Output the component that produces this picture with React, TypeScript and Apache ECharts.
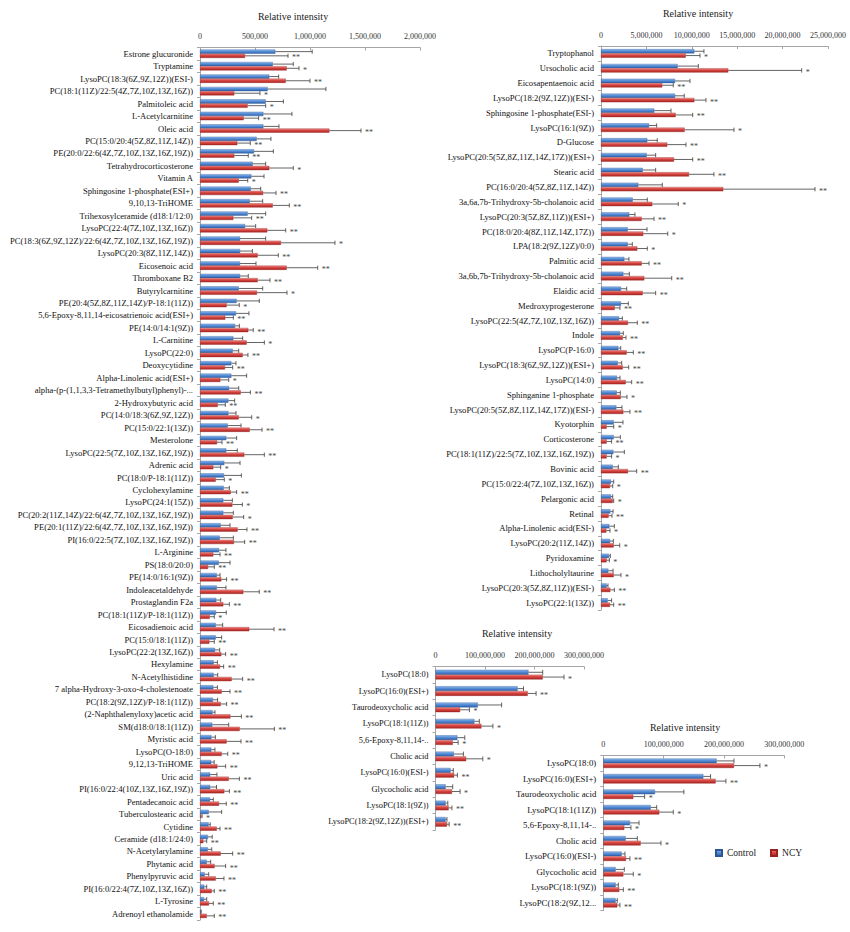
import React, { useEffect, useRef } from "react";
import * as echarts from "echarts";

// ---------- Panel 1 (left) ----------
const P1_CATEGORIES = [
  "Estrone glucuronide", "Tryptamine", "LysoPC(18:3(6Z,9Z,12Z))(ESI-)", "PC(18:1(11Z)/22:5(4Z,7Z,10Z,13Z,16Z))",
  "Palmitoleic acid", "L-Acetylcarnitine", "Oleic acid", "PC(15:0/20:4(5Z,8Z,11Z,14Z))",
  "PE(20:0/22:6(4Z,7Z,10Z,13Z,16Z,19Z))", "Tetrahydrocorticosterone", "Vitamin A", "Sphingosine 1-phosphate(ESI+)",
  "9,10,13-TriHOME", "Trihexosylceramide (d18:1/12:0)", "LysoPC(22:4(7Z,10Z,13Z,16Z))",
  "PC(18:3(6Z,9Z,12Z)/22:6(4Z,7Z,10Z,13Z,16Z,19Z))", "LysoPC(20:3(8Z,11Z,14Z))", "Eicosenoic acid", "Thromboxane B2",
  "Butyrylcarnitine", "PE(20:4(5Z,8Z,11Z,14Z)/P-18:1(11Z))", "5,6-Epoxy-8,11,14-eicosatrienoic acid(ESI+)",
  "PE(14:0/14:1(9Z))", "L-Carnitine", "LysoPC(22:0)", "Deoxycytidine", "Alpha-Linolenic acid(ESI+)",
  "alpha-(p-(1,1,3,3-Tetramethylbutyl)phenyl)-...", "2-Hydroxybutyric acid", "PC(14:0/18:3(6Z,9Z,12Z))",
  "PC(15:0/22:1(13Z))", "Mesterolone", "LysoPC(22:5(7Z,10Z,13Z,16Z,19Z))", "Adrenic acid", "PC(18:0/P-18:1(11Z))",
  "Cyclohexylamine", "LysoPC(24:1(15Z))", "PC(20:2(11Z,14Z)/22:6(4Z,7Z,10Z,13Z,16Z,19Z))",
  "PE(20:1(11Z)/22:6(4Z,7Z,10Z,13Z,16Z,19Z))", "PI(16:0/22:5(7Z,10Z,13Z,16Z,19Z))", "L-Arginine", "PS(18:0/20:0)",
  "PE(14:0/16:1(9Z))", "Indoleacetaldehyde", "Prostaglandin F2a", "PC(18:1(11Z)/P-18:1(11Z))", "Eicosadienoic acid",
  "PC(15:0/18:1(11Z))", "LysoPC(22:2(13Z,16Z))", "Hexylamine", "N-Acetylhistidine",
  "7 alpha-Hydroxy-3-oxo-4-cholestenoate", "PC(18:2(9Z,12Z)/P-18:1(11Z))", "(2-Naphthalenyloxy)acetic acid",
  "SM(d18:0/18:1(11Z))", "Myristic acid", "LysoPC(O-18:0)", "9,12,13-TriHOME", "Uric acid",
  "PI(16:0/22:4(10Z,13Z,16Z,19Z))", "Pentadecanoic acid", "Tuberculostearic acid", "Cytidine",
  "Ceramide (d18:1/24:0)", "N-Acetylarylamine", "Phytanic acid", "Phenylpyruvic acid",
  "PI(16:0/22:4(7Z,10Z,13Z,16Z))", "L-Tyrosine", "Adrenoyl ethanolamide",
];
const P1_CONTROL = [
  685000, 661000, 630000, 615000, 597000, 576000, 576000, 515000, 491000, 479000,
  467000, 461000, 452000, 433000, 409000, 364000, 364000, 364000, 364000, 352000,
  333000, 327000, 318000, 303000, 297000, 285000, 285000, 264000, 258000, 258000,
  252000, 239000, 239000, 221000, 218000, 215000, 212000, 212000, 188000, 179000,
  173000, 170000, 152000, 152000, 148000, 145000, 143000, 143000, 136000, 124000,
  124000, 121000, 117000, 114000, 112000, 104000, 103000, 102000, 93000, 92000,
  91000, 79000, 78000, 72000, 71000, 61000, 42000, 39000, 36000, 6000,
];
const P1_CONTROL_ERR = [
  335000, 187000, 85000, 530000, 161000, 260000, 142000, 130000, 176000, 118000,
  115000, 91000, 118000, 164000, 97000, 233000, 112000, 145000, 75000, 218000,
  206000, 118000, 40000, 85000, 55000, 42000, 139000, 88000, 57000, 69000,
  121000, 94000, 100000, 143000, 158000, 52000, 82000, 91000, 85000, 124000,
  63000, 103000, 30000, 84000, 40000, 94000, 63000, 54000, 43000, 34000,
  37000, 37000, 43000, 22000, 149000, 36000, 33000, 27000, 61000, 58000,
  30000, 118000, 15000, 39000, 36000, 36000, 37000, 22000, 25000, 5000,
];
const P1_NCY = [
  409000, 788000, 779000, 312000, 433000, 397000, 1176000, 339000, 312000, 630000,
  352000, 573000, 661000, 303000, 612000, 736000, 524000, 788000, 524000, 518000,
  242000, 230000, 439000, 424000, 388000, 227000, 185000, 370000, 161000, 352000,
  452000, 155000, 403000, 121000, 143000, 279000, 294000, 297000, 342000, 309000,
  121000, 73000, 194000, 394000, 212000, 88000, 448000, 85000, 194000, 182000,
  288000, 197000, 188000, 276000, 361000, 242000, 197000, 158000, 261000, 221000,
  173000, 9000, 152000, 30000, 188000, 133000, 143000, 106000, 82000, 61000,
];
const P1_NCY_ERR = [
  391000, 112000, 221000, 233000, 164000, 136000, 288000, 118000, 127000, 218000,
  82000, 118000, 151000, 167000, 167000, 491000, 188000, 282000, 112000, 273000,
  115000, 73000, 45000, 161000, 48000, 70000, 76000, 88000, 69000, 118000,
  112000, 45000, 182000, 67000, 78000, 54000, 91000, 100000, 85000, 97000,
  61000, 57000, 48000, 145000, 55000, 42000, 225000, 45000, 39000, 33000,
  100000, 76000, 54000, 100000, 315000, 131000, 55000, 75000, 97000, 46000,
  66000, 10000, 30000, 31000, 109000, 100000, 75000, 24000, 39000, 69000,
];
const P1_SIG = [
  "**", "*", "**", "*", "*", "**", "**", "**", "**", "*",
  "*", "**", "**", "**", "**", "*", "**", "**", "**", "*",
  "*", "**", "**", "*", "**", "**", "*", "**", "**", "*",
  "**", "**", "**", "*", "*", "**", "*", "*", "**", "**",
  "**", "**", "**", "**", "**", "*", "**", "**", "**", "**",
  "**", "**", "**", "**", "**", "**", "**", "**", "**", "**",
  "**", "*", "**", "**", "**", "**", "**", "**", "**", "**",
];
const P1_TICKS = [0, 500000, 1000000, 1500000, 2000000];

// ---------- Panel 2 (top right) ----------
const P2_CATEGORIES = [
  "Tryptophanol", "Ursocholic acid", "Eicosapentaenoic acid", "LysoPC(18:2(9Z,12Z))(ESI-)",
  "Sphingosine 1-phosphate(ESI-)", "LysoPC(16:1(9Z))", "D-Glucose", "LysoPC(20:5(5Z,8Z,11Z,14Z,17Z))(ESI+)",
  "Stearic acid", "PC(16:0/20:4(5Z,8Z,11Z,14Z))", "3a,6a,7b-Trihydroxy-5b-cholanoic acid",
  "LysoPC(20:3(5Z,8Z,11Z))(ESI+)", "PC(18:0/20:4(8Z,11Z,14Z,17Z))", "LPA(18:2(9Z,12Z)/0:0)", "Palmitic acid",
  "3a,6b,7b-Trihydroxy-5b-cholanoic acid", "Elaidic acid", "Medroxyprogesterone",
  "LysoPC(22:5(4Z,7Z,10Z,13Z,16Z))", "Indole", "LysoPC(P-16:0)", "LysoPC(18:3(6Z,9Z,12Z))(ESI+)",
  "LysoPC(14:0)", "Sphinganine 1-phosphate", "LysoPC(20:5(5Z,8Z,11Z,14Z,17Z))(ESI-)", "Kyotorphin",
  "Corticosterone", "PC(18:1(11Z)/22:5(7Z,10Z,13Z,16Z,19Z))", "Bovinic acid", "PC(15:0/22:4(7Z,10Z,13Z,16Z))",
  "Pelargonic acid", "Retinal", "Alpha-Linolenic acid(ESI-)", "LysoPC(20:2(11Z,14Z))", "Pyridoxamine",
  "Lithocholyltaurine", "LysoPC(20:3(5Z,8Z,11Z))(ESI-)", "LysoPC(22:1(13Z))",
];
const P2_CONTROL = [
  10280000, 8440000, 8150000, 8150000, 5870000, 5290000, 5100000, 5030000, 4590000, 4110000,
  3490000, 3120000, 2940000, 2940000, 2570000, 2460000, 2200000, 2200000, 1980000, 2090000,
  1910000, 1840000, 1760000, 1730000, 1690000, 1400000, 1400000, 1360000, 1290000, 1100000,
  1100000, 1030000, 920000, 990000, 880000, 810000, 620000, 730000,
];
const P2_CONTROL_ERR = [
  1060000, 2280000, 1650000, 1020000, 1840000, 840000, 1100000, 990000, 1430000, 2640000,
  1610000, 620000, 2130000, 510000, 510000, 660000, 630000, 810000, 370000, 370000,
  260000, 440000, 330000, 400000, 620000, 1020000, 730000, 1210000, 620000, 300000,
  190000, 300000, 550000, 370000, 150000, 520000, 150000, 440000,
];
const P2_NCY = [
  9330000, 14020000, 6750000, 10280000, 8220000, 9210000, 7300000, 8040000, 9690000, 13470000,
  5650000, 4480000, 4660000, 4000000, 4480000, 4770000, 4590000, 1510000, 2970000, 2390000,
  2830000, 2390000, 2720000, 2170000, 2460000, 620000, 620000, 620000, 2970000, 990000,
  1290000, 840000, 590000, 1400000, 620000, 1400000, 1030000, 990000,
];
const P2_NCY_ERR = [
  1570000, 8080000, 1210000, 1280000, 1880000, 5440000, 2060000, 2060000, 2750000, 10100000,
  2860000, 1360000, 2690000, 1100000, 810000, 3020000, 1430000, 580000, 1030000, 360000,
  730000, 660000, 660000, 690000, 730000, 780000, 550000, 550000, 960000, 300000,
  110000, 370000, 400000, 660000, 300000, 800000, 440000, 410000,
];
const P2_SIG = [
  "*", "*", "**", "**", "**", "*", "**", "**", "**", "**",
  "*", "**", "*", "*", "**", "**", "**", "**", "**", "**",
  "**", "**", "**", "*", "**", "*", "**", "*", "**", "*",
  "*", "**", "*", "*", "*", "*", "**", "**",
];
const P2_TICKS = [0, 5000000, 10000000, 15000000, 20000000, 25000000];

// ---------- Panels 3 & 4 (same data, bottom) ----------
const P3_CATEGORIES = [
  "LysoPC(18:0)", "LysoPC(16:0)(ESI+)", "Taurodeoxycholic acid", "LysoPC(18:1(11Z))", "5,6-Epoxy-8,11,14-..",
  "Cholic acid", "LysoPC(16:0)(ESI-)", "Glycocholic acid", "LysoPC(18:1(9Z))", "LysoPC(18:2(9Z,12Z))(ESI+)",
];
const P4_CATEGORIES = [
  "LysoPC(18:0)", "LysoPC(16:0)(ESI+)", "Taurodeoxycholic acid", "LysoPC(18:1(11Z))", "5,6-Epoxy-8,11,14-..",
  "Cholic acid", "LysoPC(16:0)(ESI-)", "Glycocholic acid", "LysoPC(18:1(9Z))", "LysoPC(18:2(9Z,12...",
];
const P3_CONTROL = [187800000, 165800000, 85600000, 78500000, 44200000, 37000000, 30400000, 20400000, 20400000, 20400000];
const P3_CONTROL_ERR = [28800000, 12000000, 48000000, 10000000, 15000000, 19400000, 5500000, 14400000, 4500000, 2800000];
const P3_NCY = [216600000, 186200000, 49700000, 92800000, 34800000, 61900000, 37600000, 33200000, 26500000, 23200000];
const P3_NCY_ERR = [43000000, 17000000, 18800000, 23200000, 11000000, 33700000, 6600000, 16500000, 6700000, 4400000];
const P3_SIG = ["*", "**", "*", "*", "*", "*", "**", "*", "**", "**"];
const P3_TICKS = [0, 100000000, 200000000, 300000000];

const SERIES_NAMES = ["Control", "NCY"];
const AXIS_TITLE = "Relative intensity";

const FONT = "'Liberation Serif', 'Times New Roman', serif";

const BLUE = new echarts.graphic.LinearGradient(0, 0, 0, 1, [
  { offset: 0, color: "#9cc2f0" },
  { offset: 0.35, color: "#5b93dc" },
  { offset: 1, color: "#2f63ad" },
]);
const RED = new echarts.graphic.LinearGradient(0, 0, 0, 1, [
  { offset: 0, color: "#f2a09d" },
  { offset: 0.35, color: "#dd4a46" },
  { offset: 1, color: "#a82622" },
]);

type PanelDef = {
  cats: string[];
  ctrl: number[];
  ctrlErr: number[];
  ncy: number[];
  ncyErr: number[];
  sig: string[];
  ticks: number[];
  grid: { left: number; top: number; width: number; height: number };
  barW: number;
  labelSize: number;
  titleX: number;
  titleY: number;
};

function fmt(v: number) {
  return Math.round(v).toLocaleString("en-US");
}

function buildOption() {
  const panels: PanelDef[] = [
    {
      cats: P1_CATEGORIES, ctrl: P1_CONTROL, ctrlErr: P1_CONTROL_ERR, ncy: P1_NCY, ncyErr: P1_NCY_ERR, sig: P1_SIG,
      ticks: P1_TICKS, grid: { left: 200, top: 47.5, width: 220, height: 872.5 }, barW: 4.2, labelSize: 8.6,
      titleX: 293, titleY: 16,
    },
    {
      cats: P2_CATEGORIES, ctrl: P2_CONTROL, ctrlErr: P2_CONTROL_ERR, ncy: P2_NCY, ncyErr: P2_NCY_ERR, sig: P2_SIG,
      ticks: P2_TICKS, grid: { left: 601, top: 46, width: 227, height: 564 }, barW: 4.3, labelSize: 8.6,
      titleX: 698, titleY: 13,
    },
    {
      cats: P3_CATEGORIES, ctrl: P3_CONTROL, ctrlErr: P3_CONTROL_ERR, ncy: P3_NCY, ncyErr: P3_NCY_ERR, sig: P3_SIG,
      ticks: P3_TICKS, grid: { left: 435.5, top: 666.5, width: 148.5, height: 163.5 }, barW: 4.8, labelSize: 8.4,
      titleX: 517, titleY: 633,
    },
    {
      cats: P4_CATEGORIES, ctrl: P3_CONTROL, ctrlErr: P3_CONTROL_ERR, ncy: P3_NCY, ncyErr: P3_NCY_ERR, sig: P3_SIG,
      ticks: P3_TICKS, grid: { left: 603.3, top: 755.5, width: 181, height: 155 }, barW: 4.7, labelSize: 8.8,
      titleX: 685, titleY: 727,
    },
  ];

  const grid: any[] = [];
  const xAxis: any[] = [];
  const yAxis: any[] = [];
  const series: any[] = [];
  const graphic: any[] = [];

  panels.forEach((p, k) => {
    grid.push({ ...p.grid, containLabel: false });
    const interval = p.ticks[1] - p.ticks[0];
    xAxis.push({
      type: "value",
      gridIndex: k,
      position: "top",
      min: p.ticks[0],
      max: p.ticks[p.ticks.length - 1],
      interval,
      axisLine: { show: true, lineStyle: { color: "#a6a6a6", width: 1 } },
      axisTick: { show: true, inside: true, length: 3, lineStyle: { color: "#a6a6a6" } },
      splitLine: { show: false },
      axisLabel: {
        fontFamily: FONT,
        fontSize: 8,
        color: "#333",
        margin: 7,
        formatter: (v: number) => fmt(v),
      },
    });
    yAxis.push({
      type: "category",
      gridIndex: k,
      inverse: true,
      data: p.cats,
      axisLine: { show: true, lineStyle: { color: "#a6a6a6", width: 1 } },
      axisTick: { show: true, length: 3, lineStyle: { color: "#a6a6a6" } },
      axisLabel: {
        fontFamily: FONT,
        fontSize: p.labelSize,
        color: "#111",
        margin: 7,
        interval: 0,
      },
    });
    series.push({
      name: SERIES_NAMES[0],
      type: "bar",
      xAxisIndex: k,
      yAxisIndex: k,
      data: p.ctrl,
      barWidth: p.barW,
      barGap: "0%",
      itemStyle: { color: BLUE, borderColor: "#2a5596", borderWidth: 0.4 },
      emphasis: { disabled: true },
    });
    series.push({
      name: SERIES_NAMES[1],
      type: "bar",
      xAxisIndex: k,
      yAxisIndex: k,
      data: p.ncy,
      barWidth: p.barW,
      barGap: "0%",
      itemStyle: { color: RED, borderColor: "#992020", borderWidth: 0.4 },
      emphasis: { disabled: true },
    });
    const bw = p.barW;
    const sig = p.sig;
    series.push({
      type: "custom",
      xAxisIndex: k,
      yAxisIndex: k,
      clip: false,
      silent: true,
      encode: { x: 1, y: 0 },
      data: p.cats.map((_, i) => [i, p.ctrl[i], p.ctrlErr[i], p.ncy[i], p.ncyErr[i]]),
      renderItem: (params: any, api: any) => {
        const i = api.value(0);
        const c = api.value(1), ce = api.value(2), n = api.value(3), ne = api.value(4);
        const base = api.coord([0, i]);
        const cEnd = api.coord([c, i])[0];
        const cErr = api.coord([c + ce, i])[0];
        const nEnd = api.coord([n, i])[0];
        const nErr = api.coord([n + ne, i])[0];
        const yc = base[1] - bw / 2;
        const yn = base[1] + bw / 2;
        const h = bw * 0.5;
        const st = { stroke: "#3c3c3c", lineWidth: 0.8 };
        return {
          type: "group",
          children: [
            { type: "line", shape: { x1: cEnd, y1: yc, x2: cErr, y2: yc }, style: st },
            { type: "line", shape: { x1: cErr, y1: yc - h, x2: cErr, y2: yc + h }, style: st },
            { type: "line", shape: { x1: nEnd, y1: yn, x2: nErr, y2: yn }, style: st },
            { type: "line", shape: { x1: nErr, y1: yn - h, x2: nErr, y2: yn + h }, style: st },
            {
              type: "text",
              x: nErr + 4,
              y: yn + 2,
              style: {
                text: sig[params.dataIndex],
                fill: "#444",
                fontSize: 8,
                fontFamily: FONT,
                align: "left",
                verticalAlign: "middle",
              },
            },
          ],
        };
      },
    });
    graphic.push({
      type: "text",
      x: p.titleX,
      y: p.titleY,
      style: {
        text: AXIS_TITLE,
        fill: "#222",
        fontSize: 10,
        fontFamily: FONT,
        align: "center",
        verticalAlign: "middle",
      },
    });
  });

  return {
    animation: false,
    backgroundColor: "#ffffff",
    textStyle: { fontFamily: FONT },
    grid,
    xAxis,
    yAxis,
    series,
    graphic,
    legend: {
      data: SERIES_NAMES,
      left: 710,
      top: 843,
      icon: "rect",
      itemWidth: 6,
      itemHeight: 6,
      itemGap: 14,
      selectedMode: false,
      textStyle: { fontFamily: "serif", fontSize: 9.5, color: "#222" },
    },
  };
}

export default function App() {
  const ref = useRef<HTMLDivElement>(null);
  useEffect(() => {
    if (!ref.current) return;
    const chart = echarts.init(ref.current, undefined, { renderer: "svg" });
    chart.setOption(buildOption() as any);
    return () => chart.dispose();
  }, []);
  return (
    <div
      ref={ref}
      style={{ position: "absolute", left: 0, top: 0, width: 850, height: 932, background: "#fff" }}
    />
  );
}
